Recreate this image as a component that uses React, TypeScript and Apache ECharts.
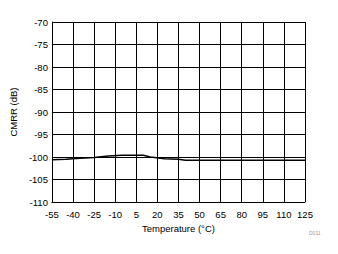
import React, { useEffect, useRef } from "react";
import * as echarts from "echarts";

const temperatures = [-55, -45, -35, -25, -15, -5, 5, 10, 15, 25, 35, 40, 50, 65, 80, 95, 110, 125];
const cmrr = [-100.6, -100.5, -100.3, -100.1, -99.8, -99.6, -99.6, -99.6, -100.0, -100.4, -100.5, -100.7, -100.7, -100.7, -100.7, -100.7, -100.7, -100.7];
const xMin = -55;
const xMax = 125;
const xStep = 15;
const yMin = -110;
const yMax = -70;
const yStep = 5;
const xTitle = "Temperature (°C)";
const yTitle = "CMRR (dB)";
const figureId = "D011";

const FONT = "Liberation Sans, Arial, sans-serif";

export default function App() {
  const ref = useRef<HTMLDivElement>(null);
  useEffect(() => {
    document.body.style.margin = "0";
    if (!ref.current) return;
    const chart = echarts.init(ref.current, null, { renderer: "svg" });
    const shifted = temperatures.map((t, i) => [t - xMin, cmrr[i]]);
    chart.setOption({
      animation: false,
      grid: { left: 50, right: 33, top: 22, bottom: 52, containLabel: false },
      xAxis: {
        type: "value",
        min: 0,
        max: xMax - xMin,
        interval: xStep,
        axisLine: { show: true, onZero: false, lineStyle: { color: "#000", width: 1 } },
        axisTick: { show: false },
        splitLine: { show: true, lineStyle: { color: "#000", width: 1 } },
        axisLabel: {
          color: "#000",
          fontFamily: FONT,
          fontSize: 9.5,
          margin: 7,
          formatter: (v: number) => String(v + xMin),
        },
        name: xTitle,
        nameLocation: "middle",
        nameGap: 19,
        nameTextStyle: { color: "#000", fontFamily: FONT, fontSize: 9.5 },
      },
      yAxis: {
        type: "value",
        min: yMin,
        max: yMax,
        interval: yStep,
        axisLine: { show: true, onZero: false, lineStyle: { color: "#000", width: 1 } },
        axisTick: { show: false },
        splitLine: { show: true, lineStyle: { color: "#000", width: 1 } },
        axisLabel: { color: "#000", fontFamily: FONT, fontSize: 9.5, margin: 4 },
        name: yTitle,
        nameLocation: "middle",
        nameGap: 31,
        nameRotate: 90,
        nameTextStyle: { color: "#000", fontFamily: FONT, fontSize: 9.5 },
      },
      series: [
        {
          type: "line",
          data: shifted,
          showSymbol: false,
          lineStyle: { color: "#000", width: 1.5 },
        },
      ],
      graphic: [
        {
          type: "text",
          left: 309,
          top: 230,
          style: { text: figureId, fill: "#999", font: `5px ${FONT}` },
        },
      ],
    });
    return () => chart.dispose();
  }, []);
  return <div ref={ref} style={{ width: 338, height: 254 }} />;
}
